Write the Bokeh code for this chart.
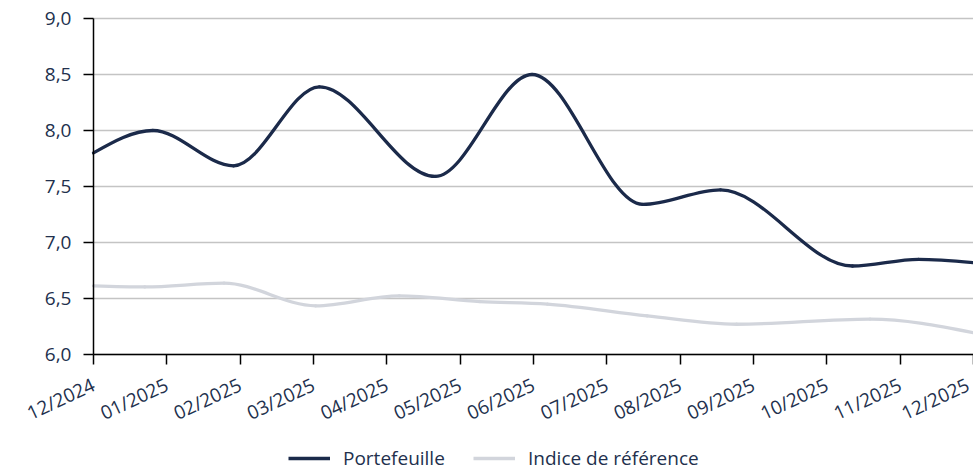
import math
from bokeh.plotting import figure
from bokeh.models import Range1d, FixedTicker, Legend, LegendItem
from bokeh.embed import file_html
from bokeh.resources import INLINE

# ---- data ----
months = ["12/2024", "01/2025", "02/2025", "03/2025", "04/2025", "05/2025", "06/2025",
          "07/2025", "08/2025", "09/2025", "10/2025", "11/2025", "12/2025"]
y_ticks = [6.0, 6.5, 7.0, 7.5, 8.0, 8.5, 9.0]

# positions in month units (0 = 12/2024)
port_pos = [0.0, 0.81, 1.91, 3.08, 4.66, 5.98, 7.49, 8.55, 10.35, 11.25, 12.0]
port_val = [7.80, 8.00, 7.685, 8.39, 7.59, 8.50, 7.34, 7.47, 6.79, 6.85, 6.82]

idx_pos = [0.0, 0.7, 1.78, 3.03, 4.17, 5.27, 6.19, 7.55, 8.77, 10.59, 12.0]
idx_val = [6.613, 6.603, 6.637, 6.435, 6.524, 6.473, 6.45, 6.345, 6.27, 6.316, 6.195]

NAVY = "#1b2a4a"
GREY = "#d2d5dc"
TEXT = "#22304d"
FONT = "Open Sans"


def monotone_beziers(xs, ys):
    n = len(xs)
    h = [xs[i + 1] - xs[i] for i in range(n - 1)]
    s = [(ys[i + 1] - ys[i]) / h[i] for i in range(n - 1)]
    m = [0.0] * n
    for i in range(1, n - 1):
        s0, s1 = s[i - 1], s[i]
        p = (s0 * h[i] + s1 * h[i - 1]) / (h[i - 1] + h[i])
        sg = (1 if s0 > 0 else -1 if s0 < 0 else 0) + (1 if s1 > 0 else -1 if s1 < 0 else 0)
        m[i] = sg * min(abs(s0), abs(s1), 0.5 * abs(p)) if sg else 0.0
    m[0] = (3 * s[0] - m[1]) / 2
    m[-1] = (3 * s[-1] - m[-2]) / 2
    seg = dict(x0=[], y0=[], x1=[], y1=[], cx0=[], cy0=[], cx1=[], cy1=[])
    for i in range(n - 1):
        d = h[i] / 3
        seg["x0"].append(xs[i]); seg["y0"].append(ys[i])
        seg["x1"].append(xs[i + 1]); seg["y1"].append(ys[i + 1])
        seg["cx0"].append(xs[i] + d); seg["cy0"].append(ys[i] + m[i] * d)
        seg["cx1"].append(xs[i + 1] - d); seg["cy1"].append(ys[i + 1] - m[i + 1] * d)
    return seg


W, H = 973, 472
AXIS_X_PX, TOP_PX, AXIS_Y_PX = 93, 18, 354   # where the axes sit on the canvas
last_i = len(months) - 1
PX_PER_MONTH = (W - AXIS_X_PX) / last_i
PX_PER_UNIT = (AXIS_Y_PX - TOP_PX) / (y_ticks[-1] - y_ticks[0])
x_start = -AXIS_X_PX / PX_PER_MONTH                        # room for y labels
y_start = y_ticks[0] - (H - AXIS_Y_PX) / PX_PER_UNIT       # room for x labels + legend
y_end = y_ticks[-1] + TOP_PX / PX_PER_UNIT                 # room for the top label

p = figure(width=W, height=H, output_backend="svg", toolbar_location=None,
           x_range=Range1d(x_start, last_i), y_range=Range1d(y_start, y_end),
           min_border_left=0, min_border_right=0, min_border_top=0,
           min_border_bottom=0)
p.outline_line_color = None
p.background_fill_color = "white"
p.border_fill_color = "white"
p.xgrid.visible = False
p.ygrid.visible = False

# horizontal grid lines spanning only the plotted months
p.segment(x0=0, x1=last_i, y0=y_ticks, y1=y_ticks, line_color="#c4c4c4", line_width=1.5)

# y axis pinned at the first month
p.yaxis.fixed_location = 0
p.yaxis.bounds = (y_ticks[0], y_ticks[-1])
p.yaxis.ticker = FixedTicker(ticks=y_ticks)
p.yaxis.major_label_overrides = {v: f"{v:.1f}".replace(".", ",") for v in y_ticks}
p.yaxis.major_tick_out = 10
p.yaxis.major_tick_in = 0
p.yaxis.minor_tick_out = 0
p.yaxis.major_label_standoff = 12

# x axis pinned at 6,0
p.xaxis.fixed_location = y_ticks[0]
p.xaxis.bounds = (0, last_i)
p.xaxis.ticker = FixedTicker(ticks=list(range(len(months))))
p.xaxis.major_label_overrides = {i: lab for i, lab in enumerate(months)}
p.xaxis.major_label_orientation = math.radians(25)
p.xaxis.major_tick_out = 10
p.xaxis.major_tick_in = 0
p.xaxis.minor_tick_out = 0
p.xaxis.major_label_standoff = 19

for ax in (p.xaxis, p.yaxis):
    ax.axis_line_color = "black"
    ax.axis_line_width = 1.5
    ax.major_tick_line_color = "black"
    ax.major_tick_line_width = 1.5
    ax.major_label_text_font = FONT
    ax.major_label_text_font_size = "19px"
    ax.major_label_text_color = TEXT

# series
idx_seg = monotone_beziers(idx_pos, idx_val)
p.bezier(line_color=GREY, line_width=3.3, line_cap="round", **idx_seg)
port_seg = monotone_beziers(port_pos, port_val)
p.bezier(line_color=NAVY, line_width=3.3, line_cap="round", **port_seg)

# legend proxies (hidden; same data)
r1 = p.line(x=port_pos, y=port_val, line_color=NAVY, line_width=3.3, visible=False)
r2 = p.line(x=idx_pos, y=idx_val, line_color=GREY, line_width=3.3, visible=False)
legend = Legend(items=[LegendItem(label="Portefeuille", renderers=[r1]),
                       LegendItem(label="Indice de référence", renderers=[r2])],
                orientation="horizontal", location=(288, 1),
                glyph_width=42, glyph_height=14, label_height=14,
                label_width=130, label_standoff=13, spacing=0,
                padding=0, margin=0, border_line_color=None,
                background_fill_alpha=0,
                label_text_font=FONT, label_text_font_size="19px",
                label_text_color=TEXT)
p.add_layout(legend)

open("out.html", "w").write(file_html(p, INLINE))
